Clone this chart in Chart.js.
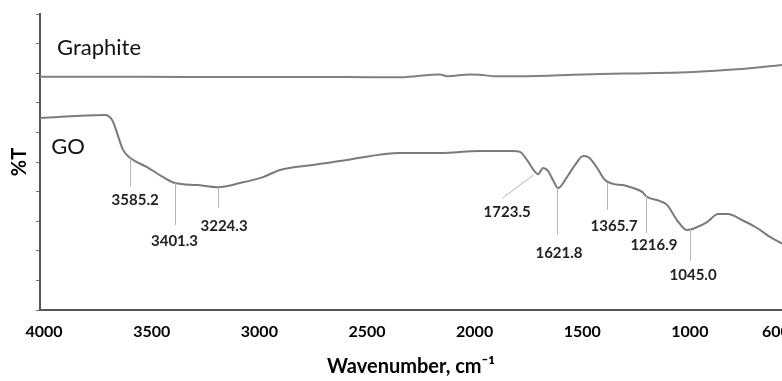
<!DOCTYPE html>
<html>
<head>
<meta charset="utf-8">
<script src="https://cdn.jsdelivr.net/npm/chart.js@4"></script>
<style>
  html, body { margin: 0; padding: 0; background: #fff; overflow: hidden; }
  #wrap { width: 782px; height: 381px; }
</style>
</head>
<body>
<div id="wrap"><canvas id="ftir"></canvas></div>
<script>
// FTIR spectra, values (%T in arbitrary units 0..10)
const goWavenumber = [4019, 3717, 3684, 3633, 3601, 3522, 3447, 3392, 3289, 3192, 3090, 2983, 2904, 2751, 2593, 2346, 2161, 1975, 1822, 1789, 1757, 1719, 1705, 1682, 1659, 1636, 1612, 1571, 1533, 1496, 1473, 1431, 1394, 1357, 1311, 1264, 1222, 1199, 1139, 1106, 1060, 1013, 976, 920, 869, 823, 758, 688, 628, 572];
const goT = [6.49, 6.59, 6.42, 5.41, 5.14, 4.83, 4.49, 4.29, 4.22, 4.15, 4.29, 4.49, 4.73, 4.90, 5.07, 5.30, 5.30, 5.37, 5.37, 5.34, 5.07, 4.66, 4.59, 4.80, 4.70, 4.39, 4.12, 4.49, 4.90, 5.20, 5.17, 4.80, 4.39, 4.26, 4.22, 4.12, 3.99, 3.82, 3.68, 3.55, 3.04, 2.70, 2.77, 2.97, 3.24, 3.24, 3.04, 2.77, 2.47, 2.24];

const graphiteWavenumber = [4019, 3600, 3000, 2600, 2346, 2161, 2128, 2021, 1975, 1914, 1789, 1496, 985, 781, 572];
const graphiteT = [7.88, 7.88, 7.87, 7.87, 7.86, 7.96, 7.90, 7.96, 7.95, 7.90, 7.90, 7.96, 8.04, 8.13, 8.28];

// peak annotations: text, leader line (x1,y1)-(x2,y2), label centre
const peakText = ['3585.2', '3401.3', '3224.3', '1723.5', '1621.8', '1365.7', '1216.9', '1045.0'];
const leaderX1 = [3601, 3392, 3192, 1729, 1617, 1385, 1204, 999];
const leaderY1 = [5.14, 4.29, 4.15, 4.56, 4.12, 4.29, 3.89, 2.74];
const leaderX2 = [3601, 3392, 3192, 1873, 1617, 1385, 1204, 999];
const leaderY2 = [4.16, 2.87, 3.45, 3.78, 2.53, 3.38, 2.60, 1.66];
const labelX = [3577, 3394, 3164, 1849, 1608, 1352, 1167, 985];
const labelY = [3.72, 2.33, 2.84, 3.31, 1.93, 2.84, 2.20, 1.18];

// series names drawn next to the traces
const seriesText = ['Graphite', 'GO'];
const seriesX = [3940, 3967];
const seriesY = [8.85, 5.51];

const xTickValues = [4000, 3500, 3000, 2500, 2000, 1500, 1000, 600];

const toPoints = (xs, ys) => xs.map((x, i) => ({ x: x, y: ys[i] }));

const annotations = {
  id: 'annotations',
  afterDatasetsDraw(chart) {
    const { ctx, scales: { x, y } } = chart;
    ctx.save();
    ctx.strokeStyle = '#b4b4b4';
    ctx.lineWidth = 1;
    peakText.forEach((t, i) => {
      ctx.beginPath();
      ctx.moveTo(Math.round(x.getPixelForValue(leaderX1[i])) + 0.5, y.getPixelForValue(leaderY1[i]));
      ctx.lineTo(Math.round(x.getPixelForValue(leaderX2[i])) + 0.5, y.getPixelForValue(leaderY2[i]));
      ctx.stroke();
    });
    ctx.fillStyle = '#222';
    ctx.font = 'bold 15px Lato';
    ctx.textAlign = 'center';
    ctx.textBaseline = 'middle';
    peakText.forEach((t, i) => {
      ctx.fillText(t, x.getPixelForValue(labelX[i]), y.getPixelForValue(labelY[i]));
    });
    ctx.fillStyle = '#111';
    ctx.font = '22px Lato';
    ctx.textAlign = 'left';
    seriesText.forEach((t, i) => {
      ctx.fillText(t, x.getPixelForValue(seriesX[i]), y.getPixelForValue(seriesY[i]));
    });
    ctx.restore();
  }
};

new Chart(document.getElementById('ftir'), {
  type: 'line',
  data: {
    datasets: [
      {
        label: 'Graphite',
        data: toPoints(graphiteWavenumber, graphiteT),
        borderColor: '#808080',
        borderWidth: 2,
        pointRadius: 0,
        cubicInterpolationMode: 'monotone'
      },
      {
        label: 'GO',
        data: toPoints(goWavenumber, goT),
        borderColor: '#7a7a7a',
        borderWidth: 2,
        pointRadius: 0,
        cubicInterpolationMode: 'monotone'
      }
    ]
  },
  options: {
    responsive: true,
    maintainAspectRatio: false,
    animation: false,
    layout: { padding: { top: 14, right: 0, left: 0, bottom: 0 } },
    plugins: {
      legend: { display: false },
      tooltip: { enabled: false }
    },
    scales: {
      x: {
        type: 'linear',
        reverse: true,
        min: 572,
        max: 4019,
        afterBuildTicks: (scale) => { scale.ticks = xTickValues.map(v => ({ value: v })); },
        afterFit: (scale) => { scale.height = 71; scale.paddingLeft = 0; scale.paddingRight = 0; },
        grid: { display: false, drawTicks: false },
        border: { display: true, color: '#555', width: 2 },
        ticks: {
          padding: 12,
          maxRotation: 0,
          autoSkip: false,
          color: '#000',
          font: { family: 'Lato', size: 16, weight: 'bold' },
          callback: (v) => String(v)
        },
        title: {
          display: true,
          text: 'Wavenumber, cm\u207B\u00B9',
          color: '#000',
          font: { family: 'Lato', size: 20, weight: 'bold' },
          padding: { top: 0, bottom: 2 }
        }
      },
      y: {
        min: 0,
        max: 10,
        afterFit: (scale) => { scale.width = 40; scale.paddingTop = 0; scale.paddingBottom = 0; },
        ticks: { display: false, stepSize: 1 },
        grid: { drawOnChartArea: false, drawTicks: true, tickLength: 4, color: '#777' },
        border: { display: true, color: '#555', width: 2 },
        title: {
          display: true,
          text: '%T',
          color: '#000',
          font: { family: 'Lato', size: 20, weight: 'bold' },
          padding: { top: 8, bottom: 0 }
        }
      }
    }
  },
  plugins: [annotations]
});
</script>
</body>
</html>
